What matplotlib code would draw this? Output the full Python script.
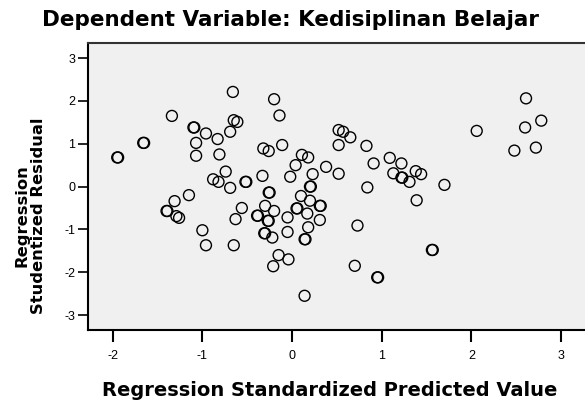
import matplotlib
matplotlib.use("Agg")
import matplotlib.pyplot as plt

# Regression residual scatter (SPSS style)
pred_x = [
    -1.95, -1.94, -1.66, -1.65, -1.34, -1.10, -1.09, -1.07, -1.07, -0.96,
    -0.83, -0.81, -0.74, -0.88, -0.82, -0.69, -0.69, -0.66, -0.65, -0.61,
    -0.52, -0.51, -0.33, -0.32, -0.26, -0.20, -0.14, -0.11, -0.02, 0.04,
    0.11, 0.18, 0.23, 0.20, 0.21, -1.15, -1.31, -1.40, -1.39, -1.29,
    -1.26, -1.00, -0.96, -0.56, -0.63, -0.65, -0.26, -0.25, -0.30, -0.39,
    -0.38, -0.20, -0.27, -0.26, -0.31, -0.30, -0.22, -0.15, -0.21, -0.04,
    -0.05, -0.05, 0.10, 0.05, 0.06, 0.17, 0.20, 0.18, 0.14, 0.15,
    0.14, 0.31, 0.32, 0.31, 0.52, 0.57, 0.65, 0.52, 0.83, 0.38,
    0.52, 0.91, 1.09, 1.22, 1.13, 1.22, 1.23, 1.31, 1.38, 1.44,
    0.84, 1.70, 1.39, 0.73, 1.56, 1.57, 0.70, 0.95, 0.96, 2.06,
    2.61, 2.60, 2.78, 2.48, 2.72,
]
resid_y = [
    0.68, 0.68, 1.02, 1.02, 1.65, 1.38, 1.38, 1.02, 0.72, 1.24,
    1.11, 0.75, 0.35, 0.17, 0.11, -0.03, 1.28, 2.21, 1.55, 1.51,
    0.11, 0.11, 0.25, 0.89, 0.83, 2.04, 1.66, 0.97, 0.23, 0.50,
    0.74, 0.68, 0.29, 0.00, 0.00, -0.20, -0.34, -0.57, -0.57, -0.69,
    -0.73, -1.02, -1.37, -0.50, -0.76, -1.37, -0.14, -0.14, -0.45, -0.68,
    -0.68, -0.57, -0.80, -0.80, -1.09, -1.09, -1.19, -1.60, -1.86, -1.70,
    -0.72, -1.06, -0.22, -0.51, -0.51, -0.63, -0.33, -0.95, -1.23, -1.23,
    -2.55, -0.45, -0.45, -0.78, 1.32, 1.28, 1.15, 0.97, 0.95, 0.46,
    0.30, 0.54, 0.67, 0.54, 0.31, 0.21, 0.21, 0.11, 0.36, 0.29,
    -0.02, 0.04, -0.32, -0.91, -1.48, -1.48, -1.85, -2.12, -2.12, 1.30,
    2.06, 1.38, 1.54, 0.84, 0.91,
]

x_ticks = [-2, -1, 0, 1, 2, 3]
x_tick_labels = ["-2", "-1", "0", "1", "2", "3"]
y_ticks = [-3, -2, -1, 0, 1, 2, 3]
y_tick_labels = ["-3", "-2", "-1", "0", "1", "2", "3"]

plt.rcParams["font.family"] = ["Liberation Sans", "DejaVu Sans"]

fig = plt.figure(figsize=(5.85, 4.01), dpi=100)
ax = fig.add_axes([0.1504, 0.178, 0.853, 0.7145])
ax.set_facecolor("#f0f0f0")

ax.scatter(pred_x, resid_y, s=62, facecolors="none", edgecolors="black",
           linewidths=1.0)

ax.set_xlim(-2.276, 3.29)
ax.set_ylim(-3.34, 3.35)
ax.set_xticks(x_ticks)
ax.set_xticklabels(x_tick_labels)
ax.set_yticks(y_ticks)
ax.set_yticklabels(y_tick_labels)
ax.tick_params(axis="x", length=8.5, width=1.5, pad=6, labelsize=9)
ax.tick_params(axis="y", length=7, width=1.2, pad=2, labelsize=9)

for side in ["left", "bottom", "top", "right"]:
    ax.spines[side].set_linewidth(1.5)
ax.spines["top"].set_color("#333333")

label_font = "DejaVu Sans"
fig.text(291 / 585, 1 - 26 / 401, "Dependent Variable: Kedisiplinan Belajar",
         ha="center", va="baseline", fontsize=15.5, fontweight="bold",
         family=label_font)
fig.text(330 / 585, 1 - 396.5 / 401, "Regression Standardized Predicted Value",
         ha="center", va="baseline", fontsize=14.0, fontweight="bold",
         family=label_font)
fig.text(30 / 585, 1 - 216 / 401, "Regression\nStudentized Residual",
         ha="center", va="center", rotation=90, fontsize=11.8,
         fontweight="bold", linespacing=1.15, family=label_font)

fig.savefig("out.png", dpi=100)
